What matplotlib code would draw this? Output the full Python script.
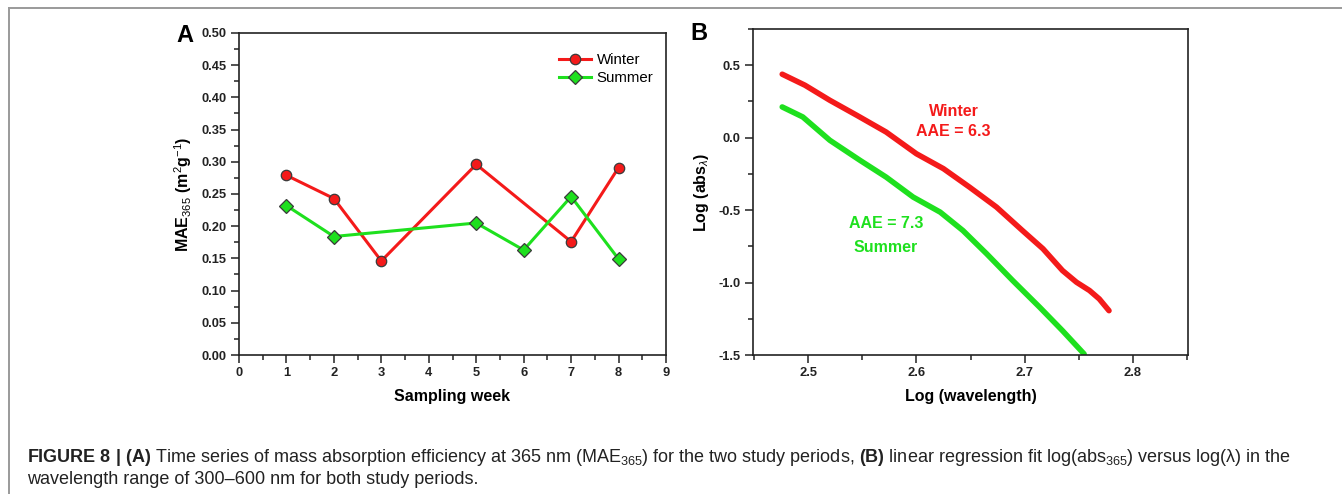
"""MAE365 time series + log(abs) vs log(wavelength) regression, two panels."""
import matplotlib
matplotlib.use('Agg')
import matplotlib.pyplot as plt
from matplotlib.ticker import MultipleLocator
from matplotlib.lines import Line2D

plt.rcParams['font.family'] = ['Liberation Sans', 'DejaVu Sans']
plt.rcParams['mathtext.fontset'] = 'custom'
plt.rcParams['mathtext.rm'] = 'Liberation Sans'
plt.rcParams['mathtext.it'] = 'Liberation Sans:italic'
plt.rcParams['mathtext.bf'] = 'Liberation Sans:bold'

RED = '#f41a1a'
GREEN = '#1ee01e'

# panel A: MAE365 per sampling week
weeks_winter = [1, 2, 3, 5, 7, 8]
mae_winter = [0.279, 0.243, 0.146, 0.296, 0.176, 0.291]
weeks_summer = [1, 2, 5, 6, 7, 8]
mae_summer = [0.232, 0.184, 0.205, 0.163, 0.246, 0.149]

# panel B: log(abs) vs log(wavelength)
logwl_winter = [2.476, 2.497, 2.520, 2.545, 2.572, 2.600, 2.625, 2.649, 2.674,
                2.698, 2.717, 2.735, 2.748, 2.760, 2.769, 2.778]
logabs_winter = [0.438, 0.362, 0.258, 0.154, 0.039, -0.111, -0.214, -0.341, -0.479,
                 -0.641, -0.767, -0.917, -0.998, -1.055, -1.113, -1.194]
logwl_summer = [2.476, 2.495, 2.520, 2.548, 2.572, 2.597, 2.622, 2.643, 2.665,
                2.689, 2.714, 2.735, 2.755]
logabs_summer = [0.212, 0.143, -0.018, -0.157, -0.272, -0.410, -0.514, -0.641, -0.802,
                 -0.986, -1.171, -1.332, -1.493]

fig = plt.figure(figsize=(13.42, 4.94), dpi=100)

# grey frame (top + left only, like the journal page crop)
fig.add_artist(Line2D([9 / 1342, 1], [1 - 8 / 494, 1 - 8 / 494], color='#9a9a9a', lw=1.4,
                      transform=fig.transFigure))
fig.add_artist(Line2D([9 / 1342, 9 / 1342], [0, 1 - 8 / 494], color='#9a9a9a', lw=1.4,
                      transform=fig.transFigure))


def style_axes(ax):
    for s in ax.spines.values():
        s.set_linewidth(1.2)
        s.set_color('#222222')
    ax.tick_params(which='both', direction='out', top=False, right=False, colors='#222222',
                   labelsize=9.3, width=1.1)
    ax.tick_params(which='major', length=6, pad=3)
    ax.tick_params(which='minor', length=3.5)
    for lab in ax.get_xticklabels() + ax.get_yticklabels():
        lab.set_fontweight('bold')


# --- A
axA = fig.add_axes([239 / 1342, 1 - 355 / 494, 427 / 1342, 322 / 494])
axA.plot(weeks_winter, mae_winter, '-o', color=RED, lw=2.2, ms=7.5,
         mfc=RED, mec='#3a3a3a', mew=0.9, label='Winter')
axA.plot(weeks_summer, mae_summer, '-D', color=GREEN, lw=2.2, ms=6.8,
         mfc=GREEN, mec='#3a3a3a', mew=0.9, label='Summer')
axA.set_xlim(0, 9)
axA.set_ylim(0, 0.5)
axA.xaxis.set_major_locator(MultipleLocator(1))
axA.xaxis.set_minor_locator(MultipleLocator(0.5))
axA.yaxis.set_major_locator(MultipleLocator(0.05))
axA.yaxis.set_minor_locator(MultipleLocator(0.025))
axA.yaxis.set_major_formatter(lambda v, p: f'{v:.2f}')
style_axes(axA)
axA.set_xlabel('Sampling week', fontsize=11.5, fontweight='bold', labelpad=7)
axA.set_ylabel(r'MAE$_{365}$ (m$^{2}$g$^{-1}$)', fontsize=11.5, fontweight='bold', labelpad=5)
axA.legend(loc='upper right', bbox_to_anchor=(0.985, 0.955), borderaxespad=0,
           frameon=False, fontsize=10.8, handlelength=2.1,
           handletextpad=0.4, labelspacing=0.25)
fig.text(176 / 1342, 1 - 36 / 494, 'A', fontsize=17, fontweight='bold', va='center', ha='left')

# --- B
axB = fig.add_axes([753 / 1342, 1 - 355 / 494, 435 / 1342, 326 / 494])
axB.plot(logwl_winter, logabs_winter, color=RED, lw=4, solid_capstyle='round')
axB.plot(logwl_summer, logabs_summer, color=GREEN, lw=4, solid_capstyle='round')
axB.set_xlim(2.449, 2.851)
axB.set_ylim(-1.5, 0.75)
axB.xaxis.set_major_locator(MultipleLocator(0.1))
axB.xaxis.set_minor_locator(MultipleLocator(0.05))
axB.yaxis.set_major_locator(MultipleLocator(0.5))
axB.yaxis.set_minor_locator(MultipleLocator(0.25))
axB.xaxis.set_major_formatter(lambda v, p: f'{v:.1f}')
axB.yaxis.set_major_formatter(lambda v, p: f'{v:.1f}')
style_axes(axB)
axB.set_xlabel('Log (wavelength)', fontsize=11.5, fontweight='bold', labelpad=7)
axB.set_ylabel(r'Log (abs$_{\lambda}$)', fontsize=11.5, fontweight='bold', labelpad=5)
axB.text(2.635, 0.184, 'Winter', color=RED, fontsize=11.5, fontweight='bold', ha='center', va='center')
axB.text(2.634, 0.044, 'AAE = 6.3', color=RED, fontsize=11.5, fontweight='bold', ha='center', va='center')
axB.text(2.572, -0.594, 'AAE = 7.3', color=GREEN, fontsize=11.5, fontweight='bold', ha='center', va='center')
axB.text(2.572, -0.756, 'Summer', color=GREEN, fontsize=11.5, fontweight='bold', ha='center', va='center')
fig.text(690 / 1342, 1 - 34 / 494, 'B', fontsize=17, fontweight='bold', va='center', ha='left')

# --- caption
cap1 = (r'$\mathbf{FIGURE\ 8\ |\ (A)}$ Time series of mass absorption efficiency at 365 nm '
        r'(MAE$_{365}$) for the two study periods, $\mathbf{(B)}$ linear regression fit '
        'log(abs$_{365}$) versus log(\u03bb) in the')
cap2 = 'wavelength range of 300\u2013600 nm for both study periods.'
fig.text(27 / 1342, 1 - 462 / 494, cap1, fontsize=13, color='#222222', va='baseline', ha='left')
fig.text(27 / 1342, 1 - 484 / 494, cap2, fontsize=13, color='#222222', va='baseline', ha='left')

fig.savefig('out.png', dpi=100)
